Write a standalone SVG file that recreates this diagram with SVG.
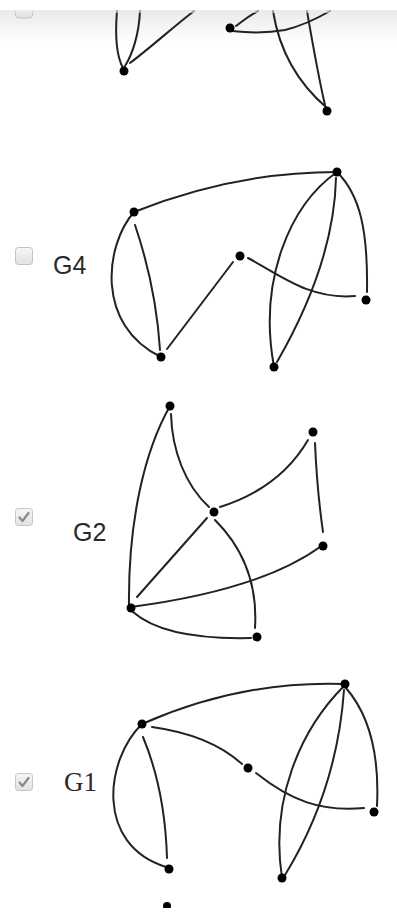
<svg xmlns="http://www.w3.org/2000/svg" width="397" height="915" viewBox="0 0 397 915">
<style>
.edge{fill:none;stroke:#222;stroke-width:2;stroke-linecap:round}
.node{fill:#000}
.cb{fill:url(#cbg);stroke:#c4c4c4;stroke-width:1}
.chk{fill:none;stroke:#8a8a8a;stroke-width:2.2;stroke-linecap:round;stroke-linejoin:round}
.lblS{font-family:"Liberation Sans",Arial,sans-serif;font-size:25px;fill:#2a2a2a}
.lblT{font-family:"Liberation Serif","Times New Roman",serif;font-size:27px;fill:#2a2a2a}
</style>
<defs>
<linearGradient id="hdr" x1="0" y1="0" x2="0" y2="1">
<stop offset="0" stop-color="#e9e9e9"/>
<stop offset="1" stop-color="#ffffff"/>
</linearGradient>
<linearGradient id="cbg" x1="0" y1="0" x2="0" y2="1">
<stop offset="0" stop-color="#f6f6f6"/>
<stop offset="1" stop-color="#e2e2e2"/>
</linearGradient>
<clipPath id="bottomClip"><rect x="0" y="0" width="397" height="908"/></clipPath>
</defs>
<rect width="397" height="915" fill="#fff"/>
<rect x="0" y="10" width="397" height="32" fill="url(#hdr)"/>

<g id="connectors">
<!-- top partial graph -->
<path class="edge" d="M117,11 C115,35 116,55 123,68"/>
<path class="edge" d="M140,11 C139,35 132,55 125,66"/>
<path class="edge" d="M130,63 C150,48 172,28 194,11"/>
<path class="edge" d="M236,26 C244,20 250,15 258,11"/>
<path class="edge" d="M232,31 C250,33 268,33 285,30 C305,25 318,18 330,11"/>
<path class="edge" d="M327,108 C300,85 280,55 273,11"/>
<path class="edge" d="M325,105 C318,75 312,40 307,11"/>
<!-- G4 -->
<path class="edge" d="M134,212 Q234,172 337,172"/>
<path class="edge" d="M134,212 C105,245 95,325 161,357"/>
<path class="edge" d="M135,225 Q156,287 160,350"/>
<path class="edge" d="M167,349 L233,262"/>
<path class="edge" d="M248,258 C280,275 310,300 355,296"/>
<path class="edge" d="M337,172 C360,195 368,230 367,292"/>
<path class="edge" d="M337,172 C290,205 258,280 274,367"/>
<path class="edge" d="M336,178 Q334,263 277,362"/>
<!-- G2 -->
<path class="edge" d="M170,406 C145,450 128,520 129,606"/>
<path class="edge" d="M171,414 C172,450 185,485 209,507"/>
<path class="edge" d="M220,507 Q280,488 308,440"/>
<path class="edge" d="M315,443 Q317,490 323,532"/>
<path class="edge" d="M207,518 L137,597"/>
<path class="edge" d="M215,520 C240,545 258,580 255,628"/>
<path class="edge" d="M131,607 Q260,590 320,547"/>
<path class="edge" d="M133,612 Q165,640 251,638"/>
<!-- G1 -->
<path class="edge" d="M142,724 Q242,680 345,684"/>
<path class="edge" d="M142,724 C105,760 95,845 166,867"/>
<path class="edge" d="M143,737 Q165,790 167,858"/>
<path class="edge" d="M152,727 Q210,735 242,764"/>
<path class="edge" d="M256,773 C290,800 320,812 364,808"/>
<path class="edge" d="M346,688 C365,710 380,745 377,806"/>
<path class="edge" d="M344,686 C300,730 270,800 282,878"/>
<path class="edge" d="M344,690 Q337,790 285,875"/>
</g>

<!-- top partial checkbox -->
<g id="cb-top"><rect class="cb" x="15.5" y="2" width="17" height="16" rx="3"/></g>
<rect x="0" y="0" width="397" height="10" fill="#fff"/>
<rect x="0" y="10" width="397" height="3" fill="#e9e9e9" opacity="0.6"/>

<g id="top-a"><circle class="node" cx="124" cy="71" r="4.5"/></g>
<g id="top-b"><circle class="node" cx="230" cy="28" r="4.5"/></g>
<g id="top-c"><circle class="node" cx="327" cy="111" r="4.5"/></g>

<!-- G4 -->
<g id="g4-check"><rect class="cb" x="15.5" y="247.5" width="17" height="17" rx="3"/></g>
<g id="g4-label"><text class="lblS" x="53" y="274">G4</text></g>
<g id="g4-n1"><circle class="node" cx="337" cy="172" r="4.5"/></g>
<g id="g4-n2"><circle class="node" cx="134" cy="212" r="4.5"/></g>
<g id="g4-n3"><circle class="node" cx="240" cy="256" r="4.5"/></g>
<g id="g4-n4"><circle class="node" cx="366" cy="300" r="4.5"/></g>
<g id="g4-n5"><circle class="node" cx="161" cy="357" r="4.5"/></g>
<g id="g4-n6"><circle class="node" cx="274" cy="367" r="4.5"/></g>

<!-- G2 -->
<g id="g2-check"><rect class="cb" x="15.5" y="508.5" width="17" height="17" rx="3"/><path class="chk" d="M19.5,517.5 L22.5,521 L28.5,513"/></g>
<g id="g2-label"><text class="lblS" x="73" y="541">G2</text></g>
<g id="g2-n1"><circle class="node" cx="170" cy="406" r="4.5"/></g>
<g id="g2-n2"><circle class="node" cx="313" cy="432" r="4.5"/></g>
<g id="g2-n3"><circle class="node" cx="214" cy="512" r="4.5"/></g>
<g id="g2-n4"><circle class="node" cx="323" cy="546" r="4.5"/></g>
<g id="g2-n5"><circle class="node" cx="131" cy="608" r="4.5"/></g>
<g id="g2-n6"><circle class="node" cx="257" cy="637" r="4.5"/></g>

<!-- G1 -->
<g id="g1-check"><rect class="cb" x="15.5" y="773.5" width="17" height="17" rx="3"/><path class="chk" d="M19.5,782.5 L22.5,786 L28.5,778"/></g>
<g id="g1-label"><text class="lblT" x="64" y="791">G1</text></g>
<g id="g1-n1"><circle class="node" cx="345" cy="684" r="4.5"/></g>
<g id="g1-n2"><circle class="node" cx="142" cy="724" r="4.5"/></g>
<g id="g1-n3"><circle class="node" cx="248" cy="768" r="4.5"/></g>
<g id="g1-n4"><circle class="node" cx="374" cy="812" r="4.5"/></g>
<g id="g1-n5"><circle class="node" cx="169" cy="869" r="4.5"/></g>
<g id="g1-n6"><circle class="node" cx="282" cy="878" r="4.5"/></g>

<g id="bottom-partial" clip-path="url(#bottomClip)"><circle class="node" cx="167" cy="906" r="4"/></g>
</svg>
